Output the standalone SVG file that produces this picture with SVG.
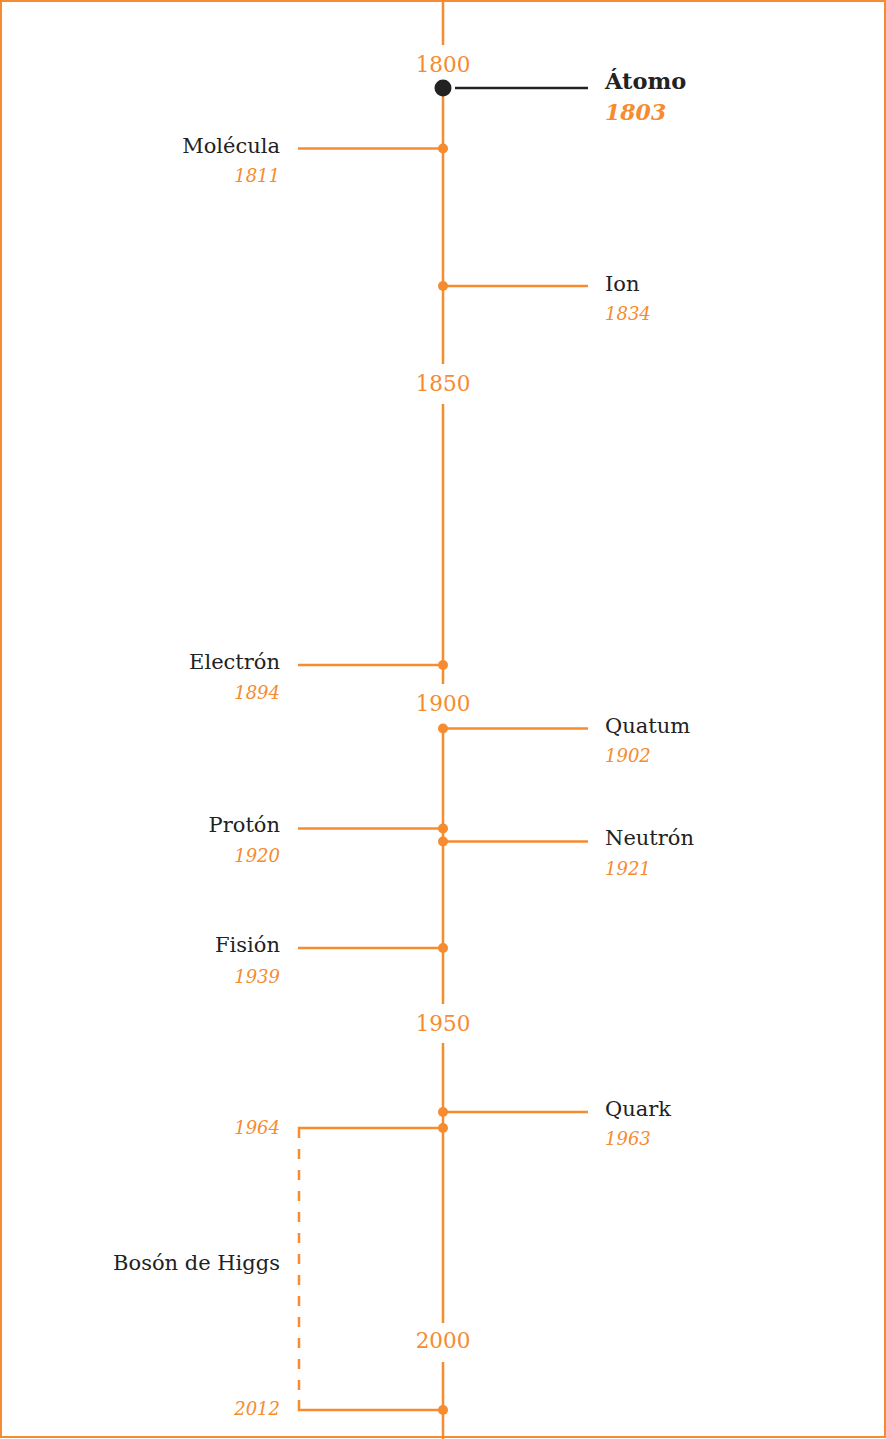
<svg xmlns="http://www.w3.org/2000/svg" width="886" height="1439" viewBox="0 0 886 1439">
<style>
.ax{stroke:#F68B2F;stroke-width:2.5;fill:none}
.tk{stroke:#F68B2F;stroke-width:2.5;fill:none}
.dot{fill:#F68B2F}
.yr{font-family:"DejaVu Serif","Liberation Serif",serif;font-size:21.5px;font-weight:300;fill:#F68B2F;text-anchor:middle}
.nm{font-family:"DejaVu Serif","Liberation Serif",serif;font-size:21px;fill:#222}
.dt{font-family:"DejaVu Serif","Liberation Serif",serif;font-size:18px;font-style:italic;fill:#F68B2F}
.l{text-anchor:end}
</style>
<rect x="1" y="1" width="884" height="1436" fill="#fff" stroke="#F68B2F" stroke-width="2"/>
<g id="axis">
<line class="ax" x1="443" y1="0" x2="443" y2="45"/>
<line class="ax" x1="443" y1="96" x2="443" y2="364"/>
<line class="ax" x1="443" y1="404" x2="443" y2="684"/>
<line class="ax" x1="443" y1="724" x2="443" y2="1004"/>
<line class="ax" x1="443" y1="1043" x2="443" y2="1323"/>
<line class="ax" x1="443" y1="1362" x2="443" y2="1439"/>
<text class="yr" x="443" y="72">1800</text>
<text class="yr" x="443" y="391">1850</text>
<text class="yr" x="443" y="711">1900</text>
<text class="yr" x="443" y="1031">1950</text>
<text class="yr" x="443" y="1348">2000</text>
</g>
<g id="connectors">
<line x1="455" y1="88" x2="588" y2="88" stroke="#222" stroke-width="2.5"/>
<line class="tk" x1="298" y1="148.5" x2="443" y2="148.5"/>
<line class="tk" x1="443" y1="286" x2="588" y2="286"/>
<line class="tk" x1="298" y1="665" x2="443" y2="665"/>
<line class="tk" x1="443" y1="728.5" x2="588" y2="728.5"/>
<line class="tk" x1="298" y1="828.5" x2="443" y2="828.5"/>
<line class="tk" x1="443" y1="841.5" x2="588" y2="841.5"/>
<line class="tk" x1="298" y1="948" x2="443" y2="948"/>
<line class="tk" x1="443" y1="1112" x2="588" y2="1112"/>
<polyline class="tk" points="443,1128 299,1128 299,1138"/>
<line class="tk" x1="299" y1="1149" x2="299" y2="1400" stroke-dasharray="10 11"/>
<polyline class="tk" points="299,1400 299,1410 443,1410"/>
</g>
<g id="atomo">
<circle cx="443" cy="88" r="8.5" fill="#222"/>
<text x="605" y="89" font-family="DejaVu Serif,'Liberation Serif',serif" font-size="22.5" font-weight="bold" fill="#222">Átomo</text>
<text x="605" y="120" font-family="DejaVu Serif,'Liberation Serif',serif" font-size="22" font-weight="bold" font-style="italic" fill="#F68B2F">1803</text>
</g>
<g id="molecula">
<circle class="dot" cx="443" cy="148.5" r="5"/>
<text class="nm l" x="280" y="153">Molécula</text>
<text class="dt l" x="280" y="182">1811</text>
</g>
<g id="ion">
<circle class="dot" cx="443" cy="286" r="5"/>
<text class="nm" x="605" y="291">Ion</text>
<text class="dt" x="605" y="320">1834</text>
</g>
<g id="electron">
<circle class="dot" cx="443" cy="665" r="5"/>
<text class="nm l" x="280" y="669">Electrón</text>
<text class="dt l" x="280" y="699">1894</text>
</g>
<g id="quatum">
<circle class="dot" cx="443" cy="728.5" r="5"/>
<text class="nm" x="605" y="733">Quatum</text>
<text class="dt" x="605" y="762">1902</text>
</g>
<g id="proton">
<circle class="dot" cx="443" cy="828.5" r="5"/>
<text class="nm l" x="280" y="832">Protón</text>
<text class="dt l" x="280" y="862">1920</text>
</g>
<g id="neutron">
<circle class="dot" cx="443" cy="841.5" r="5"/>
<text class="nm" x="605" y="845">Neutrón</text>
<text class="dt" x="605" y="875">1921</text>
</g>
<g id="fision">
<circle class="dot" cx="443" cy="948" r="5"/>
<text class="nm l" x="280" y="952">Fisión</text>
<text class="dt l" x="280" y="983">1939</text>
</g>
<g id="quark">
<circle class="dot" cx="443" cy="1112" r="5"/>
<text class="nm" x="605" y="1116">Quark</text>
<text class="dt" x="605" y="1145">1963</text>
</g>
<g id="higgs">
<circle class="dot" cx="443" cy="1128" r="5"/>
<circle class="dot" cx="443" cy="1410" r="5"/>
<text class="dt l" x="280" y="1134">1964</text>
<text class="nm l" x="280" y="1270">Bosón de Higgs</text>
<text class="dt l" x="280" y="1415">2012</text>
</g>
</svg>
